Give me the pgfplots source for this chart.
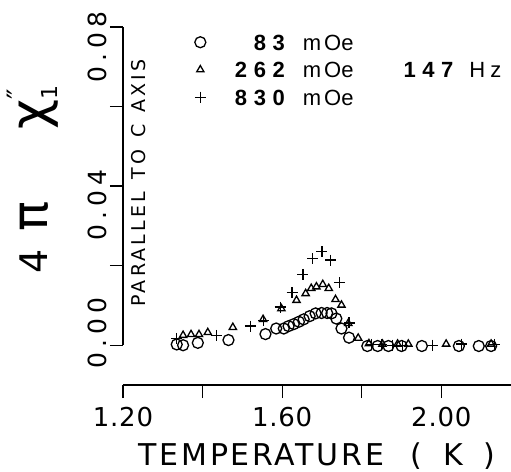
\documentclass[border=0pt]{standalone}
\usepackage{pgfplots}
\pgfplotsset{compat=1.18}
\usepackage{fontspec}
\setmainfont{DejaVu Sans}
\newfontfamily\xtfont[LetterSpace=3]{DejaVu Sans}
\newfontfamily\ytfont[LetterSpace=20]{DejaVu Sans}
\newfontfamily\xlfont[LetterSpace=9]{DejaVu Sans}
\newfontfamily\parfont[LetterSpace=17]{DejaVu Sans}
\newfontfamily\legfont{Liberation Sans}
\newfontfamily\legbold[LetterSpace=30]{Liberation Sans Bold}

\pgfplotstableread{
T v
1.335 0.0002
1.351 0.0000
1.388 0.0006
1.465 0.0013
1.558 0.0028
1.585 0.0042
1.604 0.0042
1.616 0.0048
1.629 0.0053
1.642 0.0059
1.654 0.0065
1.669 0.0073
1.684 0.0080
1.699 0.0081
1.713 0.0081
1.724 0.0080
1.736 0.0067
1.749 0.0042
1.768 0.0019
1.814 -0.0002
1.840 -0.0002
1.867 -0.0002
1.900 -0.0002
1.951 -0.0002
2.044 -0.0002
2.094 -0.0002
2.125 -0.0002
}\lowfield

\pgfplotstableread{
T v
1.351 0.0025
1.371 0.0027
1.391 0.0027
1.413 0.0032
1.476 0.0045
1.552 0.0065
1.598 0.0092
1.636 0.0113
1.659 0.0130
1.673 0.0143
1.686 0.0147
1.702 0.0153
1.717 0.0143
1.734 0.0115
1.749 0.0101
1.766 0.0055
1.791 0.0018
1.818 0.0004
1.852 0.0003
1.890 0.0003
1.917 0.0003
2.012 0.0003
2.125 0.0003
}\midfield

\pgfplotstableread{
T v
1.335 0.0017
1.435 0.0025
1.520 0.0048
1.553 0.0063
1.595 0.0096
1.625 0.0132
1.652 0.0178
1.677 0.0218
1.700 0.0235
1.722 0.0214
1.744 0.0157
1.768 0.0056
1.825 0.0002
1.850 0.0002
1.877 0.0000
1.902 0.0000
1.978 0.0000
2.050 0.0003
2.134 0.0002
}\highfield

\begin{document}
\begin{tikzpicture}
\useasboundingbox (-123pt,-86pt) rectangle (388pt,385pt);
\begin{axis}[
  at={(0,0)}, anchor=south west,
  scale only axis, width=388pt, height=358pt,
  xmin=1.2, xmax=2.175, ymin=-0.01, ymax=0.08,
  clip=false, scaled y ticks=false, scaled x ticks=false,
  axis x line*=bottom, axis y line*=left,
  y axis line style={draw=none},
  x axis line style={line width=1.3pt},
  tick align=outside, major tick length=13pt,
  tick style={line width=1.3pt, black},
  xtick={1.2,1.4,1.6,1.8,2.0}, xticklabels={1.20,,1.60,,2.00},
  ytick={0,0.02,0.04,0.06,0.08},
  yticklabels={\hspace*{24pt}0.00,,0.04\hspace*{38pt},,0.08\hspace*{40pt}},
  xticklabel style={font=\xtfont\fontsize{26}{26}\selectfont, yshift=-6pt},
  yticklabel style={font=\ytfont\fontsize{25}{25}\selectfont, rotate=90, anchor=south},
  xlabel={TEMPERATURE\hspace{26pt}(\hspace{22pt}K\hspace{20pt})},
  xlabel style={font=\xlfont\fontsize{30}{30}\selectfont,
    at={(axis description cs:0.5,-0.224)}, anchor=base},
  ylabel={{\fontsize{38}{38}\selectfont 4}\hspace{18pt}{\fontsize{50}{50}\selectfont π}\hspace{72pt}{\fontsize{52}{52}\selectfont χ}\rlap{\raisebox{-10pt}{\fontsize{22}{22}\selectfont 1}}\raisebox{20pt}{\fontsize{28}{28}\selectfont ″}},
  ylabel style={at={(axis description cs:-0.195,0.5697)}, anchor=base},
  legend style={at={(axis cs:1.380,0.0782)}, anchor=north west, draw=none, fill=none,
    font=\legfont\fontsize{22}{22}\selectfont, row sep=11.75pt, inner sep=0pt,
    nodes={inner sep=0pt, text height=15.75pt, text depth=0pt}},
  legend cell align=left,
]
\addplot[only marks, mark=o, mark size=5.5pt, line width=1.3pt] table[x=T,y=v] {\lowfield};
\addlegendentry{\hspace{4pt}\makebox[75pt][r]{\legbold 83}\hspace{18pt}m\hspace{3pt}Oe}
\addplot[only marks, mark=triangle, mark size=4.2pt, line width=1.3pt] table[x=T,y=v] {\midfield};
\addlegendentry{\hspace{4pt}\makebox[75pt][r]{\legbold 262}\hspace{18pt}m\hspace{3pt}Oe}
\addplot[only marks, mark=+, mark size=5.5pt, line width=1.3pt] table[x=T,y=v] {\highfield};
\addlegendentry{\hspace{4pt}\makebox[75pt][r]{\legbold 830}\hspace{18pt}m\hspace{3pt}Oe}
\draw[line width=1.3pt] (axis cs:1.2,0) -- (axis cs:1.2,0.08);
\node[rotate=90, anchor=base, font=\parfont\fontsize{19}{19}\selectfont] at (axis cs:1.2555,0.0408) {PARALLEL\kern12pt TO\kern12pt C\kern12pt AXIS};
\node[anchor=base west, font=\legfont\fontsize{22}{22}\selectfont] at (axis cs:1.896,0.0672) {{\legbold 147}\hspace{16pt}H\hspace{5pt}z};
\end{axis}
\end{tikzpicture}
\end{document}
